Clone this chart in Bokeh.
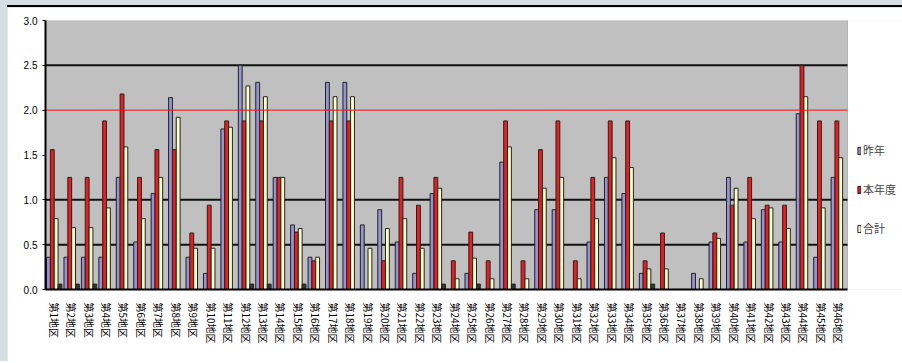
import math
from bokeh.plotting import figure
from bokeh.models import (ColumnDataSource, Legend, LegendItem, FixedTicker,
                          Range1d, BoxAnnotation)
from bokeh.transform import dodge
from bokeh.layouts import column
from bokeh.embed import file_html
from bokeh.resources import INLINE

categories = [
    "第1地区", "第2地区", "第3地区", "第4地区", "第5地区", "第6地区", "第7地区", "第8地区",
    "第9地区", "第10地区", "第11地区", "第12地区", "第13地区", "第14地区", "第15地区", "第16地区",
    "第17地区", "第18地区", "第19地区", "第20地区", "第21地区", "第22地区", "第23地区", "第24地区",
    "第25地区", "第26地区", "第27地区", "第28地区", "第29地区", "第30地区", "第31地区", "第32地区",
    "第33地区", "第34地区", "第35地区", "第36地区", "第37地区", "第38地区", "第39地区", "第40地区",
    "第41地区", "第42地区", "第43地区", "第44地区", "第45地区", "第46地区",
]
series_blue = [0.36, 0.36, 0.36, 0.36, 1.25, 0.53, 1.07, 2.14, 0.36, 0.18,
               1.79, 2.50, 2.31, 1.25, 0.72, 0.36, 2.31, 2.31, 0.72, 0.89,
               0.53, 0.18, 1.07, 0.0, 0.18, 0.0, 1.42, 0.0, 0.89, 0.89,
               0.0, 0.53, 1.25, 1.07, 0.18, 0.0, 0.0, 0.18, 0.53, 1.25,
               0.53, 0.89, 0.53, 1.96, 0.36, 1.25]
series_red = [1.56, 1.25, 1.25, 1.88, 2.18, 1.25, 1.56, 1.56, 0.63, 0.94,
              1.88, 1.88, 1.88, 1.25, 0.64, 0.32, 1.88, 1.88, 0.0, 0.32,
              1.25, 0.94, 1.25, 0.32, 0.64, 0.32, 1.88, 0.32, 1.56, 1.88,
              0.32, 1.25, 1.88, 1.88, 0.32, 0.63, 0.0, 0.0, 0.63, 0.94,
              1.25, 0.94, 0.94, 2.50, 1.88, 1.88]
series_yellow = [0.79, 0.69, 0.69, 0.91, 1.59, 0.79, 1.25, 1.92, 0.46, 0.46,
                 1.81, 2.27, 2.15, 1.25, 0.68, 0.36, 2.15, 2.15, 0.46, 0.68,
                 0.79, 0.46, 1.13, 0.12, 0.35, 0.12, 1.59, 0.12, 1.13, 1.25,
                 0.12, 0.79, 1.47, 1.36, 0.23, 0.23, 0.0, 0.12, 0.57, 1.13,
                 0.79, 0.91, 0.68, 2.15, 0.91, 1.47]
series_small = [0.06, 0.06, 0.06, 0, 0, 0, 0, 0, 0, 0,
                0, 0.06, 0.06, 0, 0.06, 0, 0, 0, 0, 0,
                0, 0, 0.06, 0, 0.06, 0, 0.06, 0, 0, 0,
                0, 0, 0, 0, 0.06, 0, 0, 0, 0, 0,
                0, 0, 0, 0, 0, 0]
legend_labels = ["昨年", "本年度", "合計"]
y_ticks = [0.0, 0.5, 1.0, 1.5, 2.0, 2.5, 3.0]
y_tick_labels = ["0.0", "0.5", "1.0", "1.5", "2.0", "2.5", "3.0"]
black_grid_values = [0.5, 1.0, 2.5]
reference_value = 2.0

n = len(categories)
positions = list(range(1, n + 1))
source = ColumnDataSource(dict(x=positions, a=series_blue, b=series_red,
                               c=series_yellow, d=series_small))

# plot area spans the categories; the extra room on the right holds the legend
x_end = 0.5 + n * 857.0 / 802.0
p = figure(x_range=Range1d(0.5, x_end), y_range=Range1d(0, 3.0),
           width=895, height=356, output_backend="svg", toolbar_location=None,
           min_border_left=38, min_border_top=13, min_border_bottom=74,
           min_border_right=0)
p.margin = (5, 0, 0, 7)
p.styles = {"border-top": "2px solid #000000"}
p.background_fill_color = "#FFFFFF"
p.border_fill_color = "#FFFFFF"
p.outline_line_color = None
p.xgrid.grid_line_color = None
p.ygrid.grid_line_color = None

p.add_layout(BoxAnnotation(left=0.5, right=n + 0.5, bottom=0, top=3.0,
                           fill_color="#C0C0C0", fill_alpha=1.0,
                           line_color="#555555", line_width=1, level="underlay"))

grid_src = ColumnDataSource(dict(y=black_grid_values,
                                 x0=[0.5] * len(black_grid_values),
                                 x1=[n + 0.5] * len(black_grid_values)))
p.segment(x0="x0", y0="y", x1="x1", y1="y", source=grid_src,
          line_color="#111111", line_width=2)

bw = 0.22
r_a = p.vbar(x=dodge("x", -0.33), top="a", width=bw, source=source,
             fill_color="#9494D2", line_color="#222222", line_width=1)
r_b = p.vbar(x=dodge("x", -0.11), top="b", width=bw, source=source,
             fill_color="#EE1C1C", line_color="#222222", line_width=1)
r_c = p.vbar(x=dodge("x", 0.11), top="c", width=bw, source=source,
             fill_color="#FFFFCC", line_color="#222222", line_width=1)
r_d = p.vbar(x=dodge("x", 0.33), top="d", width=bw, source=source,
             fill_color="#333333", line_color="#222222", line_width=1)

ref_src = ColumnDataSource(dict(y=[reference_value], x0=[0.5], x1=[n + 0.5]))
p.segment(x0="x0", y0="y", x1="x1", y1="y", source=ref_src,
          line_color="#EE1111", line_width=1)

p.yaxis.ticker = FixedTicker(ticks=y_ticks)
p.yaxis.major_label_overrides = {t: l for t, l in zip(y_ticks, y_tick_labels)}
p.yaxis.axis_line_width = 2
p.yaxis.axis_line_color = "#000000"
p.yaxis.major_tick_out = 3
p.yaxis.major_tick_in = 0
p.yaxis.minor_tick_line_color = None
p.yaxis.major_label_standoff = 5
p.yaxis.major_label_text_font = "Liberation Sans"
p.yaxis.major_label_text_font_size = "10px"
p.yaxis.major_label_text_color = "#000000"

p.xaxis.ticker = FixedTicker(ticks=positions)
p.xaxis.major_label_overrides = {i: c for i, c in zip(positions, categories)}
p.xaxis.bounds = (0.5, n + 0.5)
p.xaxis.axis_line_width = 2
p.xaxis.axis_line_color = "#000000"
p.xaxis.major_tick_line_color = None
p.xaxis.minor_tick_line_color = None
p.xaxis.major_label_orientation = -math.pi / 2
p.xaxis.major_label_standoff = 7
p.xaxis.major_label_text_font = "Noto Sans CJK JP"
p.xaxis.major_label_text_font_size = "10px"
p.xaxis.major_label_text_color = "#000000"

legend = Legend(items=[LegendItem(label=legend_labels[0], renderers=[r_a]),
                       LegendItem(label=legend_labels[1], renderers=[r_b]),
                       LegendItem(label=legend_labels[2], renderers=[r_c])],
                location=(812, 53), glyph_width=4, glyph_height=9,
                label_text_font="Noto Sans CJK JP", label_text_font_size="11px",
                label_height=13, spacing=23, padding=3, margin=0,
                label_standoff=2, border_line_color=None,
                background_fill_alpha=0)
p.add_layout(legend, "center")

layout = column(p, styles={"background-color": "#D4DCE4"})
open("out.html", "w").write(file_html(layout, INLINE))
